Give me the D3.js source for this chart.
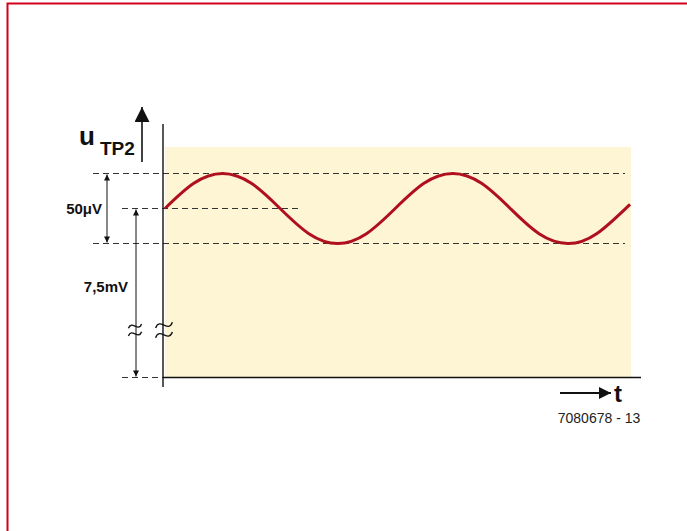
<!DOCTYPE html>
<html>
  <head>
    <meta charset="utf-8">
    <title>u TP2 ripple</title>
    <script src="https://d3js.org/d3.v7.min.js"></script>
    <style>
      body { margin: 0; background: #fff; }
      .lbl { font-family: "Liberation Sans", Arial, sans-serif; font-weight: bold; fill: #111; }
      .dash { stroke: #333; stroke-width: 1.2; stroke-dasharray: 6,4; fill: none; }
      .code { font-family: "Liberation Sans", Arial, sans-serif; font-size: 14px; fill: #222; }
    </style>
  </head>
  <body>
    <script>
      // time in ms (period ~10), ripple in µV around 7,5 mV
      var times = [0, 1.25, 2.5, 3.75, 5, 6.25, 7.5, 8.75, 10, 11.25, 12.5, 13.75, 15, 16.25, 17.5, 18.75, 20.2];
      var ripple = [0, 18, 25, 18, 0, -18, -25, -18, 0, 18, 25, 18, 0, -18, -25, -18, 3];
      var dcLevel = 7500; // µV
      // reference levels (µV): 0 V, bottom of ripple, dc, top of ripple
      var levels = [0, 7475, 7500, 7525];
      var labels = ["50\u03bcV", "7,5mV"];

      var svg = d3.select("body").append("svg")
        .attr("width", 687).attr("height", 531);

      // x scale: time, y scale: broken (polylinear) voltage axis
      var x = d3.scaleLinear().domain([0, 20.2]).range([165, 630]);
      var y = d3.scaleLinear().domain([0, 7475, 7525]).range([377.5, 243.5, 173.5]);

      // red frame
      svg.append("rect").attr("x", 7.5).attr("y", 3.5)
        .attr("width", 700).attr("height", 529)
        .attr("fill", "none").attr("stroke", "#d0021b").attr("stroke-width", 2);

      var defs = svg.append("defs");
      function marker(id, w, h) {
        defs.append("marker").attr("id", id)
          .attr("viewBox", "0 0 10 10").attr("refX", 10).attr("refY", 5)
          .attr("markerUnits", "userSpaceOnUse")
          .attr("markerWidth", w).attr("markerHeight", h)
          .attr("orient", "auto-start-reverse")
          .append("path").attr("d", "M0,0L10,5L0,10Z").attr("fill", "#111");
      }
      marker("sm", 9, 6);
      marker("big", 18, 15);
      marker("tarr", 17, 12);

      // background panel
      svg.append("rect")
        .attr("x", x(0)).attr("y", 147)
        .attr("width", x(20.2) - x(0) + 1).attr("height", y(0) - 147)
        .attr("fill", "#fef5d5");

      // dashed reference lines
      svg.append("line").attr("class", "dash")
        .attr("x1", 93).attr("x2", 625).attr("y1", y(levels[3])).attr("y2", y(levels[3]));
      svg.append("line").attr("class", "dash")
        .attr("x1", 93).attr("x2", 625).attr("y1", y(levels[1])).attr("y2", y(levels[1]));
      svg.append("line").attr("class", "dash")
        .attr("x1", 122).attr("x2", 300).attr("y1", y(levels[2])).attr("y2", y(levels[2]));
      svg.append("line").attr("class", "dash")
        .attr("x1", 122).attr("x2", 163).attr("y1", y(levels[0])).attr("y2", y(levels[0]));

      // axes
      svg.append("line").attr("x1", 163).attr("x2", 641)
        .attr("y1", y(0)).attr("y2", y(0)).attr("stroke", "#111").attr("stroke-width", 1.4);
      svg.append("line").attr("x1", 163).attr("x2", 163)
        .attr("y1", 124).attr("y2", 387).attr("stroke", "#111").attr("stroke-width", 1.4);

      // ripple curve
      var line = d3.line()
        .x(function(d, i) { return x(times[i]); })
        .y(function(d) { return y(dcLevel + d); })
        .curve(d3.curveNatural);
      svg.append("path").datum(ripple)
        .attr("d", line)
        .attr("fill", "none").attr("stroke", "#b0101e").attr("stroke-width", 3);

      // dimension arrows
      svg.append("line").attr("x1", 107).attr("x2", 107)
        .attr("y1", y(levels[3]) + 1).attr("y2", y(levels[1]) - 1)
        .attr("stroke", "#111").attr("stroke-width", 1)
        .attr("marker-start", "url(#sm)").attr("marker-end", "url(#sm)");
      svg.append("line").attr("x1", 136).attr("x2", 136)
        .attr("y1", y(levels[2]) + 1).attr("y2", y(levels[0]) - 1)
        .attr("stroke", "#111").attr("stroke-width", 1)
        .attr("marker-start", "url(#sm)").attr("marker-end", "url(#sm)");

      svg.append("text").attr("class", "lbl").attr("font-size", 15)
        .attr("x", 102).attr("y", 214).attr("text-anchor", "end").text(labels[0]);
      svg.append("text").attr("class", "lbl").attr("font-size", 15)
        .attr("x", 128).attr("y", 292).attr("text-anchor", "end").text(labels[1]);

      // axis break marks
      function breakMark(cx, cy, s) {
        [-3.5, 3.5].forEach(function(dy) {
          var yy = cy + dy * s;
          svg.append("path")
            .attr("d", "M" + (cx - 6 * s) + "," + (yy + 2 * s) +
                       " C" + (cx - 3 * s) + "," + (yy - 6 * s) + " " + (cx + 3 * s) + "," + (yy + 6 * s) +
                       " " + (cx + 6 * s) + "," + (yy - 2 * s))
            .attr("fill", "none").attr("stroke", "#111").attr("stroke-width", 1.4);
        });
      }
      breakMark(135, 330, 1.1);
      breakMark(164, 330, 1.4);

      // u TP2 label and arrow
      svg.append("text").attr("class", "lbl").attr("font-size", 26)
        .attr("x", 79).attr("y", 145).text("u");
      svg.append("text").attr("class", "lbl").attr("font-size", 19)
        .attr("x", 100).attr("y", 155).text("TP2");
      svg.append("line").attr("x1", 142).attr("x2", 142)
        .attr("y1", 162).attr("y2", 107)
        .attr("stroke", "#111").attr("stroke-width", 1.6)
        .attr("marker-end", "url(#big)");

      // t arrow
      svg.append("line").attr("x1", 560).attr("x2", 611)
        .attr("y1", 393).attr("y2", 393)
        .attr("stroke", "#111").attr("stroke-width", 2)
        .attr("marker-end", "url(#tarr)");
      svg.append("text").attr("class", "lbl").attr("font-size", 24)
        .attr("x", 614).attr("y", 402).text("t");

      svg.append("text").attr("class", "code")
        .attr("x", 599).attr("y", 423).attr("text-anchor", "middle").text("7080678 - 13");
    </script>
  </body>
</html>
